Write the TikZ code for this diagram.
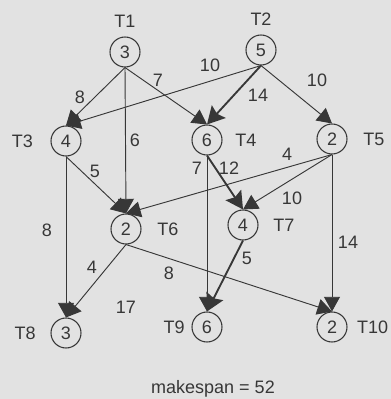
\documentclass[tikz,border=0pt]{standalone}
\usepackage{fontspec}
\setmainfont{Liberation Sans}
\usetikzlibrary{arrows.meta, positioning}
\definecolor{paper}{RGB}{226,226,226}
\definecolor{ink}{RGB}{55,55,55}

\begin{document}
\begin{tikzpicture}[
    x=0.75pt, y=-0.75pt, % one unit = one pixel of the reference, y downwards
    >={Triangle[length=11pt,width=12pt]},
    task/.style={circle, draw=ink, line width=0.8pt, minimum size=22.5pt, inner sep=0pt, text=ink, font=\fontsize{13.5}{15}\selectfont},
    tname/.style={inner sep=0pt, text=ink, font=\fontsize{13.5}{15}\selectfont},
    weight/.style={inner sep=0pt, text=ink, font=\fontsize{13.5}{15}\selectfont},
    line/.style={draw=ink, line width=0.7pt, ->},
    crit/.style={line, line width=1.4pt, >={Stealth[length=13pt,width=14pt,inset=2pt]}}
]
    % background sheet fixes the margins
    \fill[paper] (0,0) rectangle (391,399);

    % Tasks with their durations
    \node[task] (t1) at (125,52) {3};
    \node[task] (t2) at (261,50) {5};
    \node[task] (t3) at (66,141) {4};
    \node[task] (t4) at (207,140) {6};
    \node[task] (t5) at (332,139) {2};
    \node[task] (t6) at (126,229) {2};
    \node[task] (t7) at (243,225) {4};
    \node[task] (t8) at (66,333) {3};
    \node[task] (t9) at (207,327) {6};
    \node[task] (t10) at (332,327) {2};

    % Task names next to the circles
    \node[tname, above=6.4pt of t1] (n1) {T1};
    \node[tname, above=6.4pt of t2] (n2) {T2};
    \node[tname, left=13pt of t3] (n3) {T3};
    \node[tname, right=9.4pt of t4] (n4) {T4};
    \node[tname, right=11.6pt of t5] (n5) {T5};
    \node[tname, right=11.6pt of t6] (n6) {T6};
    \node[tname, right=11pt of t7] (n7) {T7};
    \node[tname, left=11pt of t8] (n8) {T8};
    \node[tname, left=5pt of t9] (n9) {T9};
    \node[tname, right=7pt of t10] (n10) {T10};

    % Precedence arcs, all heads meet at the top of the circle
    \path[line] (t1.south) -- (t3.north);
    \path[line] (t1.south) -- (t4.north);
    \path[line] (t1.south) -- (t6.north);
    \path[line] (t2.south) -- (t3.north);
    \path[crit] (t2.south) -- (t4.north);
    \path[line] (t2.south) -- (t5.north);
    \path[line] (t3.south) -- (t6.north);
    \path[line] (t3.south) -- (t8.north);
    \path[line] (t4.south) -- (t9.north);
    \path[crit] (t4.south) -- (t7.north);
    \path[line] (t5.south) -- (t6.north);
    \path[line] (t5.south) -- (t7.north);
    \path[line] (t5.south) -- (t10.north);
    \path[line] (t6.south) -- (t8.north);
    \path[line] (t6.south) -- (t10.north);
    \path[crit] (t7.south) -- (t9.north);

    % Communication costs
    \node[weight] (w13) at (80,97) {8};
    \node[weight] (w14) at (158,80) {7};
    \node[weight] (w16) at (135,140) {6};
    \node[weight] (w23) at (210,65) {10};
    \node[weight] (w24) at (258,95) {14};
    \node[weight] (w25) at (317,80) {10};
    \node[weight] (w36) at (95,171) {5};
    \node[weight] (w38) at (47,230) {8};
    \node[weight] (w49) at (197,168) {7};
    \node[weight] (w47) at (229,168) {12};
    \node[weight] (w56) at (287,154) {4};
    \node[weight] (w57) at (292,198) {10};
    \node[weight] (w510) at (348,242) {14};
    \node[weight] (w68) at (92,267) {4};
    \node[weight] (w610) at (169,273) {8};
    \node[weight] (w79) at (247,258) {5};
    \node[weight] (extra) at (126,307) {17};

    \node[weight] (mspan) at (213,389) {makespan = 52};
\end{tikzpicture}
\end{document}
